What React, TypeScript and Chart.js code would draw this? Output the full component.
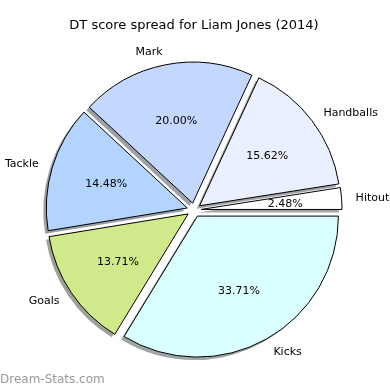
import React, { useEffect, useRef } from "react";
import { Chart, registerables } from "chart.js";

Chart.register(...registerables);

// Slices listed clockwise from 3 o'clock (matplotlib draws them counter-clockwise)
const labels = ["Kicks", "Goals", "Tackle", "Mark", "Handballs", "Hitout"];
const values = [33.71, 13.71, 14.48, 20.0, 15.62, 2.48];
const colors = ["#d9ffff", "#d0e98a", "#b3d4ff", "#c4d8ff", "#eaf0ff", "#ffffff"];

const TITLE = "DT score spread for Liam Jones (2014)";
const WATERMARK = "Dream-Stats.com";

const EXPLODE = 7;
const SHADOW_DX = -3;
const SHADOW_DY = 3;
const FONT = "'DejaVu Sans', sans-serif";

function hexToRgb(h: string) {
  const n = parseInt(h.slice(1), 16);
  return [(n >> 16) & 255, (n >> 8) & 255, n & 255];
}

const mplPie = {
  id: "mplPie",
  beforeDatasetsDraw(chart: any) {
    const ctx = chart.ctx;
    const meta = chart.getDatasetMeta(0);
    // shadows
    meta.data.forEach((arc: any, i: number) => {
      const { x, y, startAngle, endAngle, outerRadius } = arc.getProps(
        ["x", "y", "startAngle", "endAngle", "outerRadius"],
        true
      );
      const mid = (startAngle + endAngle) / 2;
      const cx = x + Math.cos(mid) * EXPLODE + SHADOW_DX;
      const cy = y + Math.sin(mid) * EXPLODE + SHADOW_DY;
      const [r, g, b] = hexToRgb(colors[i]);
      ctx.save();
      ctx.beginPath();
      ctx.moveTo(cx, cy);
      ctx.arc(cx, cy, outerRadius, startAngle, endAngle);
      ctx.closePath();
      ctx.fillStyle = `rgba(${Math.round(r * 0.3)},${Math.round(g * 0.3)},${Math.round(b * 0.3)},0.5)`;
      ctx.fill();
      ctx.restore();
    });
    // exploded wedges
    meta.data.forEach((arc: any) => {
      const { startAngle, endAngle } = arc.getProps(["startAngle", "endAngle"], true);
      const mid = (startAngle + endAngle) / 2;
      ctx.save();
      ctx.translate(Math.cos(mid) * EXPLODE, Math.sin(mid) * EXPLODE);
      arc.draw(ctx);
      ctx.restore();
    });
    return false;
  },
  afterDraw(chart: any) {
    const ctx = chart.ctx;
    const meta = chart.getDatasetMeta(0);
    ctx.save();
    ctx.fillStyle = "#000";
    ctx.font = `11px ${FONT}`;
    ctx.textBaseline = "middle";
    meta.data.forEach((arc: any, i: number) => {
      const { x, y, startAngle, endAngle, outerRadius } = arc.getProps(
        ["x", "y", "startAngle", "endAngle", "outerRadius"],
        true
      );
      const mid = (startAngle + endAngle) / 2;
      const cx = x + Math.cos(mid) * EXPLODE;
      const cy = y + Math.sin(mid) * EXPLODE;
      const lx = cx + Math.cos(mid) * outerRadius * 1.1;
      const ly = cy + Math.sin(mid) * outerRadius * 1.1 + 1;
      ctx.textAlign = Math.cos(mid) > 0 ? "left" : "right";
      ctx.fillText(labels[i], lx, ly);
      const px = cx + Math.cos(mid) * outerRadius * 0.6;
      const py = cy + Math.sin(mid) * outerRadius * 0.6 + 1;
      ctx.textAlign = "center";
      ctx.fillText(values[i].toFixed(2) + "%", px, py);
    });
    // title
    ctx.font = `13px ${FONT}`;
    ctx.textAlign = "center";
    ctx.fillText(TITLE, 194, 26);
    // watermark
    ctx.font = `12px ${FONT}`;
    ctx.fillStyle = "#999999";
    ctx.textAlign = "left";
    ctx.fillText(WATERMARK, 0, 380);
    ctx.restore();
  },
};

export default function App() {
  const ref = useRef<HTMLCanvasElement>(null);
  useEffect(() => {
    if (!ref.current) return;
    const chart = new Chart(ref.current, {
      type: "pie",
      data: {
        labels,
        datasets: [
          {
            data: values,
            backgroundColor: colors,
            borderColor: "#000000",
            borderWidth: 1,
          },
        ],
      },
      options: {
        animation: false,
        responsive: false,
        rotation: 90,
        radius: 141,
        layout: { padding: { left: 0, right: 2, top: 30, bottom: 0 } },
        plugins: {
          legend: { display: false },
          tooltip: { enabled: false },
          title: { display: false },
        },
      },
      plugins: [mplPie],
    });
    return () => chart.destroy();
  }, []);
  return (
    <div style={{ position: "fixed", left: 0, top: 0, width: 390, height: 390, background: "#fff" }}>
      <canvas ref={ref} width={390} height={390} style={{ width: 390, height: 390 }} />
    </div>
  );
}
